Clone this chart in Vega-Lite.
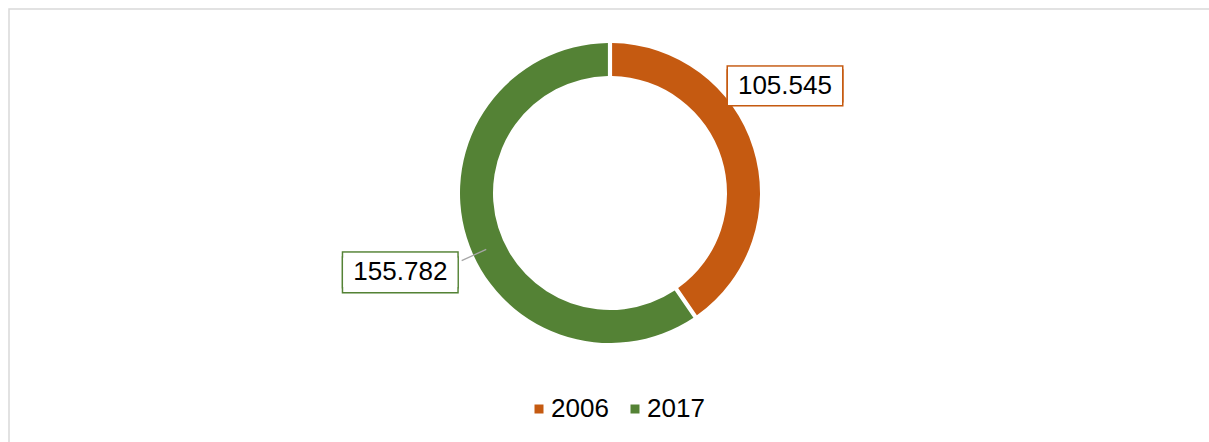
{
  "$schema": "https://vega.github.io/schema/vega-lite/v6.json",
  "width": 1202,
  "height": 440,
  "autosize": "none",
  "padding": {"left": 9, "top": 9, "right": 0, "bottom": 0},
  "background": "white",
  "config": {"view": {"stroke": null}, "font": "Liberation Sans"},
  "data": {"values": [{"Year": "2006", "Value": 105.545}, {"Year": "2017", "Value": 155.782}]},
  "layer": [
    {
      "data": {"values": [{}]},
      "mark": {"type": "rect", "filled": false, "stroke": "#d9d9d9", "strokeWidth": 1.5},
      "encoding": {}
    },
    {
      "mark": {"type": "arc", "outerRadius": 150, "innerRadius": 117, "padAngle": 0.022, "yOffset": -36},
      "encoding": {
        "theta": {"field": "Value", "type": "quantitative", "stack": true},
        "order": {"field": "Year", "type": "ordinal"},
        "color": {
          "field": "Year", "type": "nominal",
          "scale": {"domain": ["2006", "2017"], "range": ["#C55A11", "#548235"]},
          "legend": {"title": null, "orient": "none", "legendX": 517, "legendY": 387, "direction": "horizontal", "symbolType": "square", "symbolSize": 81, "symbolStrokeWidth": 0, "labelFontSize": 26, "labelFont": "Liberation Sans", "labelColor": "#000000", "labelOffset": -1, "columnPadding": 13}
        }
      }
    },
    {
      "mark": {"type": "arc", "outerRadius": 163, "innerRadius": 136, "padAngle": 2.5, "thetaOffset": 3.016, "yOffset": -36, "filled": false, "stroke": "#a6a6a6", "strokeWidth": 1.3},
      "encoding": {
        "theta": {"field": "Value", "type": "quantitative", "stack": true},
        "order": {"field": "Year", "type": "ordinal"},
        "strokeOpacity": {"condition": {"test": "datum.Year === '2006'", "value": 1}, "value": 0}
      }
    },
    {
      "mark": {"type": "text", "radius": 205, "thetaOffset": -0.2468, "yOffset": -36, "dy": -19, "font": "Liberation Sans", "fontSize": 114, "align": "center", "baseline": "middle", "fill": "#C55A11", "stroke": "#C55A11", "strokeWidth": 3},
      "encoding": {
        "theta": {"field": "Value", "type": "quantitative", "stack": true},
        "order": {"field": "Year", "type": "ordinal"},
        "text": {"condition": {"test": "datum.Year === '2006'", "value": "▬"}, "value": ""}
      }
    },
    {
      "mark": {"type": "text", "radius": 205, "thetaOffset": -0.2468, "yOffset": -36, "dy": -15, "font": "Liberation Sans", "fontSize": 114, "align": "center", "baseline": "middle", "fill": "#C55A11", "stroke": "#C55A11", "strokeWidth": 3},
      "encoding": {
        "theta": {"field": "Value", "type": "quantitative", "stack": true},
        "order": {"field": "Year", "type": "ordinal"},
        "text": {"condition": {"test": "datum.Year === '2006'", "value": "▬"}, "value": ""}
      }
    },
    {
      "mark": {"type": "text", "radius": 205, "thetaOffset": -0.2468, "yOffset": -36, "dy": -19, "font": "Liberation Sans", "fontSize": 114, "align": "center", "baseline": "middle", "fill": "#ffffff"},
      "encoding": {
        "theta": {"field": "Value", "type": "quantitative", "stack": true},
        "order": {"field": "Year", "type": "ordinal"},
        "text": {"condition": {"test": "datum.Year === '2006'", "value": "▬"}, "value": ""}
      }
    },
    {
      "mark": {"type": "text", "radius": 205, "thetaOffset": -0.2468, "yOffset": -36, "dy": -15, "font": "Liberation Sans", "fontSize": 114, "align": "center", "baseline": "middle", "fill": "#ffffff"},
      "encoding": {
        "theta": {"field": "Value", "type": "quantitative", "stack": true},
        "order": {"field": "Year", "type": "ordinal"},
        "text": {"condition": {"test": "datum.Year === '2006'", "value": "▬"}, "value": ""}
      }
    },
    {
      "mark": {"type": "text", "radius": 205, "thetaOffset": -0.2468, "yOffset": -36, "font": "Liberation Sans", "fontSize": 26, "align": "center", "baseline": "middle", "color": "#000000"},
      "encoding": {
        "theta": {"field": "Value", "type": "quantitative", "stack": true},
        "order": {"field": "Year", "type": "ordinal"},
        "text": {"condition": {"test": "datum.Year === '2006'", "field": "Value", "type": "quantitative", "format": ".3f"}, "value": ""}
      }
    },
    {
      "mark": {"type": "text", "radius": 224, "thetaOffset": -0.0578, "yOffset": -36, "dy": -19, "font": "Liberation Sans", "fontSize": 114, "align": "center", "baseline": "middle", "fill": "#548235", "stroke": "#548235", "strokeWidth": 3},
      "encoding": {
        "theta": {"field": "Value", "type": "quantitative", "stack": true},
        "order": {"field": "Year", "type": "ordinal"},
        "text": {"condition": {"test": "datum.Year === '2017'", "value": "▬"}, "value": ""}
      }
    },
    {
      "mark": {"type": "text", "radius": 224, "thetaOffset": -0.0578, "yOffset": -36, "dy": -14, "font": "Liberation Sans", "fontSize": 114, "align": "center", "baseline": "middle", "fill": "#548235", "stroke": "#548235", "strokeWidth": 3},
      "encoding": {
        "theta": {"field": "Value", "type": "quantitative", "stack": true},
        "order": {"field": "Year", "type": "ordinal"},
        "text": {"condition": {"test": "datum.Year === '2017'", "value": "▬"}, "value": ""}
      }
    },
    {
      "mark": {"type": "text", "radius": 224, "thetaOffset": -0.0578, "yOffset": -36, "dy": -19, "font": "Liberation Sans", "fontSize": 114, "align": "center", "baseline": "middle", "fill": "#ffffff"},
      "encoding": {
        "theta": {"field": "Value", "type": "quantitative", "stack": true},
        "order": {"field": "Year", "type": "ordinal"},
        "text": {"condition": {"test": "datum.Year === '2017'", "value": "▬"}, "value": ""}
      }
    },
    {
      "mark": {"type": "text", "radius": 224, "thetaOffset": -0.0578, "yOffset": -36, "dy": -14, "font": "Liberation Sans", "fontSize": 114, "align": "center", "baseline": "middle", "fill": "#ffffff"},
      "encoding": {
        "theta": {"field": "Value", "type": "quantitative", "stack": true},
        "order": {"field": "Year", "type": "ordinal"},
        "text": {"condition": {"test": "datum.Year === '2017'", "value": "▬"}, "value": ""}
      }
    },
    {
      "mark": {"type": "text", "radius": 224, "thetaOffset": -0.0578, "yOffset": -36, "font": "Liberation Sans", "fontSize": 26, "align": "center", "baseline": "middle", "color": "#000000"},
      "encoding": {
        "theta": {"field": "Value", "type": "quantitative", "stack": true},
        "order": {"field": "Year", "type": "ordinal"},
        "text": {"condition": {"test": "datum.Year === '2017'", "field": "Value", "type": "quantitative", "format": ".3f"}, "value": ""}
      }
    }
  ]
}
